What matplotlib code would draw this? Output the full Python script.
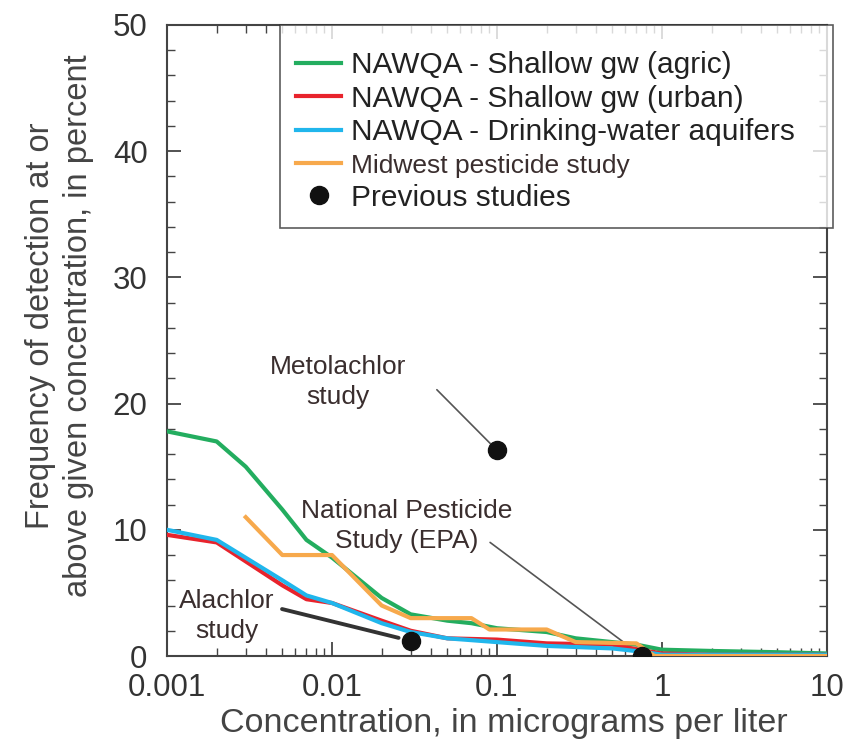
import matplotlib
matplotlib.use("Agg")
import matplotlib.pyplot as plt
from matplotlib.ticker import LogLocator, MultipleLocator, FixedLocator, FixedFormatter

plt.rcParams['font.family'] = ['Liberation Sans', 'DejaVu Sans']

# ---- data ----
agric_x = [0.001, 0.002, 0.003, 0.005, 0.007, 0.01, 0.02, 0.03, 0.05, 0.07, 0.1, 0.2, 0.3, 0.5, 0.7, 1, 2, 5, 10]
agric_y = [17.8, 17.0, 15.0, 11.6, 9.2, 7.8, 4.6, 3.3, 2.8, 2.6, 2.2, 1.9, 1.4, 1.1, 0.9, 0.5, 0.4, 0.3, 0.2]

urban_x = [0.001, 0.002, 0.005, 0.007, 0.01, 0.02, 0.03, 0.05, 0.1, 0.2, 0.5, 0.8, 1, 2, 10]
urban_y = [9.6, 9.0, 5.6, 4.5, 4.2, 2.8, 2.0, 1.4, 1.3, 1.0, 0.9, 0.4, 0.2, 0.1, 0.1]

dw_x = [0.001, 0.002, 0.005, 0.007, 0.01, 0.02, 0.03, 0.05, 0.1, 0.2, 0.5, 0.8, 1, 2, 10]
dw_y = [10.0, 9.2, 6.0, 4.8, 4.2, 2.6, 1.9, 1.4, 1.1, 0.8, 0.6, 0.3, 0.1, 0.1, 0.1]

midwest_x = [0.003, 0.005, 0.01, 0.02, 0.03, 0.07, 0.09, 0.2, 0.3, 0.7, 0.9, 10]
midwest_y = [11.0, 8.0, 8.0, 4.0, 3.0, 3.0, 2.1, 2.1, 1.1, 1.0, 0.0, 0.0]

prev_x = [0.1, 0.03, 0.757]
prev_y = [16.3, 1.2, 0.0]
prev_labels = ["Metolachlor\nstudy", "Alachlor\nstudy", "National Pesticide\nStudy (EPA)"]
label_pos = [(0.0109, 21.7), (0.00231, 3.17), (0.0285, 10.3)]
line_start = [(0.0432, 21.1), (0.00498, 3.72), (0.0908, 9.0)]

xticks = [0.001, 0.01, 0.1, 1, 10]
xticklabels = ["0.001", "0.01", "0.1", "1", "10"]
yticks = [0, 10, 20, 30, 40, 50]

c_green = "#23ad5f"
c_red = "#e8232c"
c_blue = "#20b6ec"
c_orange = "#f7a94c"
c_text = "#3a2e2e"

fig = plt.figure(figsize=(8.61, 7.51), dpi=100)
ax = fig.add_axes([167/861, 1-656/751, (827-167)/861, (656-25)/751])

ax.plot(agric_x, agric_y, color=c_green, lw=3, label="NAWQA - Shallow gw (agric)", zorder=3)
ax.plot(urban_x, urban_y, color=c_red, lw=3, label="NAWQA - Shallow gw (urban)", zorder=3)
ax.plot(dw_x, dw_y, color=c_blue, lw=3, label="NAWQA - Drinking-water aquifers", zorder=4)
ax.plot(midwest_x, midwest_y, color=c_orange, lw=3, label="Midwest pesticide study", zorder=5)
ax.plot(prev_x, prev_y, 'o', color="#111111", ms=13, ls='none', label="Previous studies", zorder=6)

ax.set_xscale('log')
ax.set_xlim(0.001, 10)
ax.set_ylim(0, 50)

# annotations
styles = [dict(color="#555555", lw=1.2), dict(color="#333333", lw=2.8), dict(color="#555555", lw=1.2)]
shrinks = [7, 9, 2]
for (px, py), lab, (tx, ty), (sx, sy), st, sh in zip(zip(prev_x, prev_y), prev_labels, label_pos,
                                                     line_start, styles, shrinks):
    ax.text(tx, ty, lab, ha='center', va='center', fontsize=19, color=c_text, linespacing=1.3, zorder=7)
    ax.annotate("", xy=(px, py), xytext=(sx, sy),
                arrowprops=dict(arrowstyle='-', shrinkA=0, shrinkB=sh, **st), zorder=2)

ax.xaxis.set_major_locator(FixedLocator(xticks))
ax.xaxis.set_major_formatter(FixedFormatter(xticklabels))
ax.xaxis.set_minor_locator(LogLocator(base=10, subs=range(2, 10), numticks=20))
ax.yaxis.set_major_locator(FixedLocator(yticks))
ax.yaxis.set_minor_locator(MultipleLocator(2))

ax.tick_params(which='both', direction='in', top=True, right=True, colors='#444444', labelcolor='#333333')
ax.tick_params(which='major', length=10, width=1.3, labelsize=22.5)
ax.tick_params(which='minor', length=6, width=1.0)
ax.tick_params(axis='x', which='major', pad=12)
ax.tick_params(axis='y', which='major', pad=14)
for s in ax.spines.values():
    s.set_color('#444444')
    s.set_linewidth(1.5)

ax.set_xlabel("Concentration, in micrograms per liter", fontsize=24.5, color='#444444')
ax.xaxis.set_label_coords(0.51, -0.083)
ax.set_ylabel("Frequency of detection at or\nabove given concentration, in percent", fontsize=23.5,
              color='#444444', linespacing=1.3)
ax.yaxis.set_label_coords(-0.11, 0.523)

leg = ax.legend(loc='upper left', bbox_to_anchor=(280/861, 1-225/751, 553/861, 200/751),
                bbox_transform=fig.transFigure, mode='expand', title=' ', title_fontsize=3,
                borderaxespad=0, fancybox=False, frameon=True, fontsize=21.5, handlelength=1.5,
                handletextpad=0.33, labelspacing=0.19, borderpad=0.55, markerscale=1.0)
leg.get_frame().set_edgecolor('#333333')
leg.get_frame().set_linewidth(1.2)
leg.set_zorder(10)
for t in leg.get_texts():
    t.set_color('#222222')
leg.get_texts()[3].set_fontsize(19)
leg.get_texts()[3].set_color(c_text)

fig.savefig("out.png", dpi=100)
